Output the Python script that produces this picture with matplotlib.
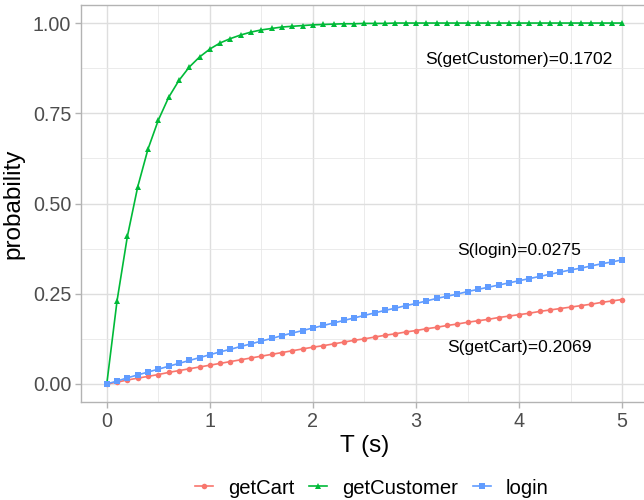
import numpy as np
import matplotlib.pyplot as plt
from matplotlib.ticker import MultipleLocator

plt.rcParams['font.family'] = ['Liberation Sans', 'DejaVu Sans']

# time grid, 0.1 s steps
t = np.round(np.arange(0, 51) * 0.1, 1)

get_cart = [0.000, 0.005, 0.011, 0.016, 0.021, 0.026, 0.032, 0.037, 0.042, 0.047,
            0.052, 0.057, 0.062, 0.067, 0.072, 0.077, 0.082, 0.087, 0.092, 0.097,
            0.102, 0.106, 0.111, 0.116, 0.121, 0.125, 0.130, 0.135, 0.139, 0.144,
            0.148, 0.153, 0.157, 0.162, 0.166, 0.171, 0.175, 0.179, 0.184, 0.188,
            0.192, 0.196, 0.201, 0.205, 0.209, 0.213, 0.217, 0.221, 0.226, 0.230,
            0.234]

get_customer = [0.000, 0.231, 0.409, 0.546, 0.651, 0.731, 0.794, 0.841, 0.878, 0.906,
                0.928, 0.945, 0.957, 0.967, 0.975, 0.981, 0.985, 0.989, 0.991, 0.993,
                0.995, 0.996, 0.997, 0.998, 0.998, 0.999, 0.999, 0.999, 1.000, 1.000,
                1.000, 1.000, 1.000, 1.000, 1.000, 1.000, 1.000, 1.000, 1.000, 1.000,
                1.000, 1.000, 1.000, 1.000, 1.000, 1.000, 1.000, 1.000, 1.000, 1.000,
                1.000]

login = [0.000, 0.008, 0.017, 0.025, 0.033, 0.041, 0.049, 0.057, 0.065, 0.073,
         0.081, 0.089, 0.096, 0.104, 0.111, 0.119, 0.126, 0.134, 0.141, 0.148,
         0.155, 0.162, 0.169, 0.176, 0.183, 0.190, 0.197, 0.204, 0.210, 0.217,
         0.223, 0.230, 0.237, 0.243, 0.249, 0.256, 0.262, 0.268, 0.274, 0.280,
         0.286, 0.292, 0.298, 0.304, 0.310, 0.316, 0.321, 0.327, 0.333, 0.338,
         0.344]

series = ['getCart', 'getCustomer', 'login']
colors = ['#F8766D', '#00BA38', '#619CFF']
markers = ['o', '^', 's']

labels = ['S(getCustomer)=0.1702', 'S(login)=0.0275', 'S(getCart)=0.2069']
label_x = [4, 4, 4]
label_y = [0.9, 0.37, 0.1]

fig = plt.figure(figsize=(6.44, 5.0), dpi=100)
ax = fig.add_axes([81 / 644, 98 / 500, 567 / 644, 397 / 500])

for vals, name, c, m in zip([get_cart, get_customer, login], series, colors, markers):
    ax.plot(t, vals, color=c, marker=m, markersize=4, linewidth=1.2,
            markeredgewidth=0, label=name)

for txt, x, y in zip(labels, label_x, label_y):
    ax.text(x, y, txt, ha='center', va='center', fontsize=12.6, color='black')

ax.set_xlim(-0.25, 5.25)
ax.set_ylim(-0.05, 1.05)
ax.xaxis.set_major_locator(MultipleLocator(1))
ax.xaxis.set_minor_locator(MultipleLocator(0.5))
ax.yaxis.set_major_locator(MultipleLocator(0.25))
ax.yaxis.set_minor_locator(MultipleLocator(0.125))
ax.yaxis.set_major_formatter(plt.FuncFormatter(lambda v, p: f'{v:.2f}'))

ax.grid(which='major', color='#DEDEDE', linewidth=1.0)
ax.grid(which='minor', color='#E8E8E8', linewidth=0.6)
ax.set_axisbelow(True)

for side in ['left', 'bottom', 'top', 'right']:
    ax.spines[side].set_color('#B3B3B3')
    ax.spines[side].set_linewidth(1.0)

ax.tick_params(which='major', length=4, width=1.0, color='#B3B3B3',
               labelcolor='#4D4D4D', labelsize=14.2, pad=3)
ax.tick_params(which='minor', length=0)

ax.set_xlabel('T (s)', fontsize=17.5, labelpad=3)
ax.set_ylabel('probability', fontsize=17.5, labelpad=6)

fig.legend(loc='center', bbox_to_anchor=(372 / 644, 1 - 488 / 500), ncol=3,
           frameon=False, fontsize=14.6, handlelength=0.9, handletextpad=0.75,
           columnspacing=0.7)

fig.savefig('out.png', dpi=100)
